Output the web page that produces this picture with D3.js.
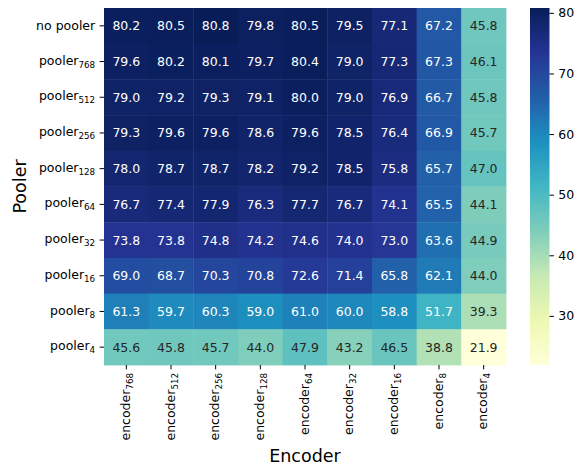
<!DOCTYPE html>
<html>
<head>
    <meta charset="utf-8">
    <script src="https://cdn.jsdelivr.net/npm/d3@7"></script>
    <style>
        body { margin: 0; background: #fff; }
        svg { display: block; font-family: "DejaVu Sans", sans-serif; }
        .tick-label { font-size: 12.5px; fill: #000; }
        .annot { font-size: 12.5px; }
        .axis-title { font-size: 17.5px; fill: #000; }
    </style>
</head>
<body>
<svg width="584" height="468"></svg>
<script>

// row labels: [base, subscript]
var poolers = [
    ['no pooler', ''],
    ['pooler', '768'],
    ['pooler', '512'],
    ['pooler', '256'],
    ['pooler', '128'],
    ['pooler', '64'],
    ['pooler', '32'],
    ['pooler', '16'],
    ['pooler', '8'],
    ['pooler', '4']
];

var encoders = ['768', '512', '256', '128', '64', '32', '16', '8', '4'];

var scores = [
    [80.2, 80.5, 80.8, 79.8, 80.5, 79.5, 77.1, 67.2, 45.8],
    [79.6, 80.2, 80.1, 79.7, 80.4, 79.0, 77.3, 67.3, 46.1],
    [79.0, 79.2, 79.3, 79.1, 80.0, 79.0, 76.9, 66.7, 45.8],
    [79.3, 79.6, 79.6, 78.6, 79.6, 78.5, 76.4, 66.9, 45.7],
    [78.0, 78.7, 78.7, 78.2, 79.2, 78.5, 75.8, 65.7, 47.0],
    [76.7, 77.4, 77.9, 76.3, 77.7, 76.7, 74.1, 65.5, 44.1],
    [73.8, 73.8, 74.8, 74.2, 74.6, 74.0, 73.0, 63.6, 44.9],
    [69.0, 68.7, 70.3, 70.8, 72.6, 71.4, 65.8, 62.1, 44.0],
    [61.3, 59.7, 60.3, 59.0, 61.0, 60.0, 58.8, 51.7, 39.3],
    [45.6, 45.8, 45.7, 44.0, 47.9, 43.2, 46.5, 38.8, 21.9]
];

var colorbarTicks = [30, 40, 50, 60, 70, 80];

// matplotlib YlGnBu anchors
var ylgnbu = ['#ffffd9', '#edf8b1', '#c7e9b4', '#7fcdbb', '#41b6c4',
              '#1d91c0', '#225ea8', '#253494', '#081d58'];

var svg = d3.select('svg'),
    plotLeft = 104, plotRight = 506, plotTop = 8, plotBottom = 365,
    cbLeft = 530, cbRight = 549.5,
    tickLen = 4.4;

var allValues = d3.merge(scores),
    vmin = d3.min(allValues),
    vmax = d3.max(allValues);

var x = d3.scaleBand().domain(d3.range(encoders.length)).range([plotLeft, plotRight]),
    y = d3.scaleBand().domain(d3.range(poolers.length)).range([plotTop, plotBottom]);

var colorT = d3.scaleLinear().domain([vmin, vmax]).range([0, 1]).clamp(true),
    colorRamp = d3.scaleLinear()
        .domain(ylgnbu.map(function (c, i) { return i / (ylgnbu.length - 1); }))
        .range(ylgnbu)
        .interpolate(d3.interpolateRgb);

function color(v) {
    return colorRamp(colorT(v));
}

function luminance(c) {
    var rgb = d3.rgb(c);
    var lin = [rgb.r, rgb.g, rgb.b].map(function (v) {
        v = v / 255;
        return v <= 0.03928 ? v / 12.92 : Math.pow((v + 0.055) / 1.055, 2.4);
    });
    return 0.2126 * lin[0] + 0.7152 * lin[1] + 0.0722 * lin[2];
}

var cells = [];
scores.forEach(function (row, i) {
    row.forEach(function (v, j) {
        cells.push({row: i, col: j, value: v});
    });
});

// heatmap cells
svg.append('g')
    .selectAll('rect')
    .data(cells)
    .enter()
    .append('rect')
    .attr('x', function (d) { return x(d.col); })
    .attr('y', function (d) { return y(d.row); })
    .attr('width', x.bandwidth() + 0.4)
    .attr('height', y.bandwidth() + 0.4)
    .attr('fill', function (d) { return color(d.value); });

// annotations
svg.append('g')
    .selectAll('text')
    .data(cells)
    .enter()
    .append('text')
    .attr('class', 'annot')
    .attr('x', function (d) { return x(d.col) + x.bandwidth() / 2; })
    .attr('y', function (d) { return y(d.row) + y.bandwidth() / 2; })
    .attr('dy', '0.36em')
    .attr('text-anchor', 'middle')
    .attr('fill', function (d) { return luminance(color(d.value)) > 0.408 ? '#262626' : '#ffffff'; })
    .text(function (d) { return d.value.toFixed(1); });

// y axis ticks + labels
var yAxis = svg.append('g');
poolers.forEach(function (p, i) {
    var cy = y(i) + y.bandwidth() / 2;
    yAxis.append('line')
        .attr('x1', plotLeft - tickLen).attr('x2', plotLeft)
        .attr('y1', cy).attr('y2', cy)
        .attr('stroke', '#000').attr('stroke-width', 1);
    var t = yAxis.append('text')
        .attr('class', 'tick-label')
        .attr('x', plotLeft - tickLen - 4.4)
        .attr('y', cy)
        .attr('dy', p[1] ? '0.25em' : '0.36em')
        .attr('text-anchor', 'end');
    t.append('tspan').text(p[0]);
    if (p[1]) {
        t.append('tspan').attr('dy', 3).style('font-size', '8.75px').text(p[1]);
    }
});

// x axis ticks + labels
var xAxis = svg.append('g');
encoders.forEach(function (e, j) {
    var cx = x(j) + x.bandwidth() / 2;
    xAxis.append('line')
        .attr('x1', cx).attr('x2', cx)
        .attr('y1', plotBottom).attr('y2', plotBottom + tickLen)
        .attr('stroke', '#000').attr('stroke-width', 1);
    var t = xAxis.append('text')
        .attr('class', 'tick-label')
        .attr('transform', 'translate(' + cx + ',' + (plotBottom + tickLen + 3.5) + ') rotate(-90)')
        .attr('dy', '0.3em')
        .attr('text-anchor', 'end');
    t.append('tspan').text('encoder');
    t.append('tspan').attr('dy', 3).style('font-size', '8.75px').text(e);
});

// axis titles
svg.append('text')
    .attr('class', 'axis-title')
    .attr('x', (plotLeft + plotRight) / 2)
    .attr('y', 461.5)
    .attr('text-anchor', 'middle')
    .text('Encoder');

svg.append('text')
    .attr('class', 'axis-title')
    .attr('transform', 'translate(26,' + ((plotTop + plotBottom) / 2) + ') rotate(-90)')
    .attr('text-anchor', 'middle')
    .text('Pooler');

// colorbar
var defs = svg.append('defs');
var grad = defs.append('linearGradient')
    .attr('id', 'cbGrad')
    .attr('x1', 0).attr('y1', 1).attr('x2', 0).attr('y2', 0);
d3.range(0, 1.0001, 0.02).forEach(function (t) {
    grad.append('stop')
        .attr('offset', t)
        .attr('stop-color', colorRamp(t));
});

svg.append('rect')
    .attr('x', cbLeft)
    .attr('y', plotTop)
    .attr('width', cbRight - cbLeft)
    .attr('height', plotBottom - plotTop)
    .attr('fill', 'url(#cbGrad)');

var cbScale = d3.scaleLinear().domain([vmin, vmax]).range([plotBottom, plotTop]);
var cbAxis = d3.axisRight(cbScale)
    .tickValues(colorbarTicks)
    .tickSize(tickLen)
    .tickPadding(4.4)
    .tickFormat(d3.format('d'));

var cbG = svg.append('g')
    .attr('transform', 'translate(' + cbRight + ',0)')
    .call(cbAxis);
cbG.select('.domain').remove();
cbG.selectAll('.tick line').attr('stroke', '#000');
cbG.selectAll('.tick text')
    .attr('class', 'tick-label')
    .style('font-family', '"DejaVu Sans", sans-serif')
    .style('font-size', '12.5px')
    .attr('fill', '#000');

</script>
</body>
</html>
